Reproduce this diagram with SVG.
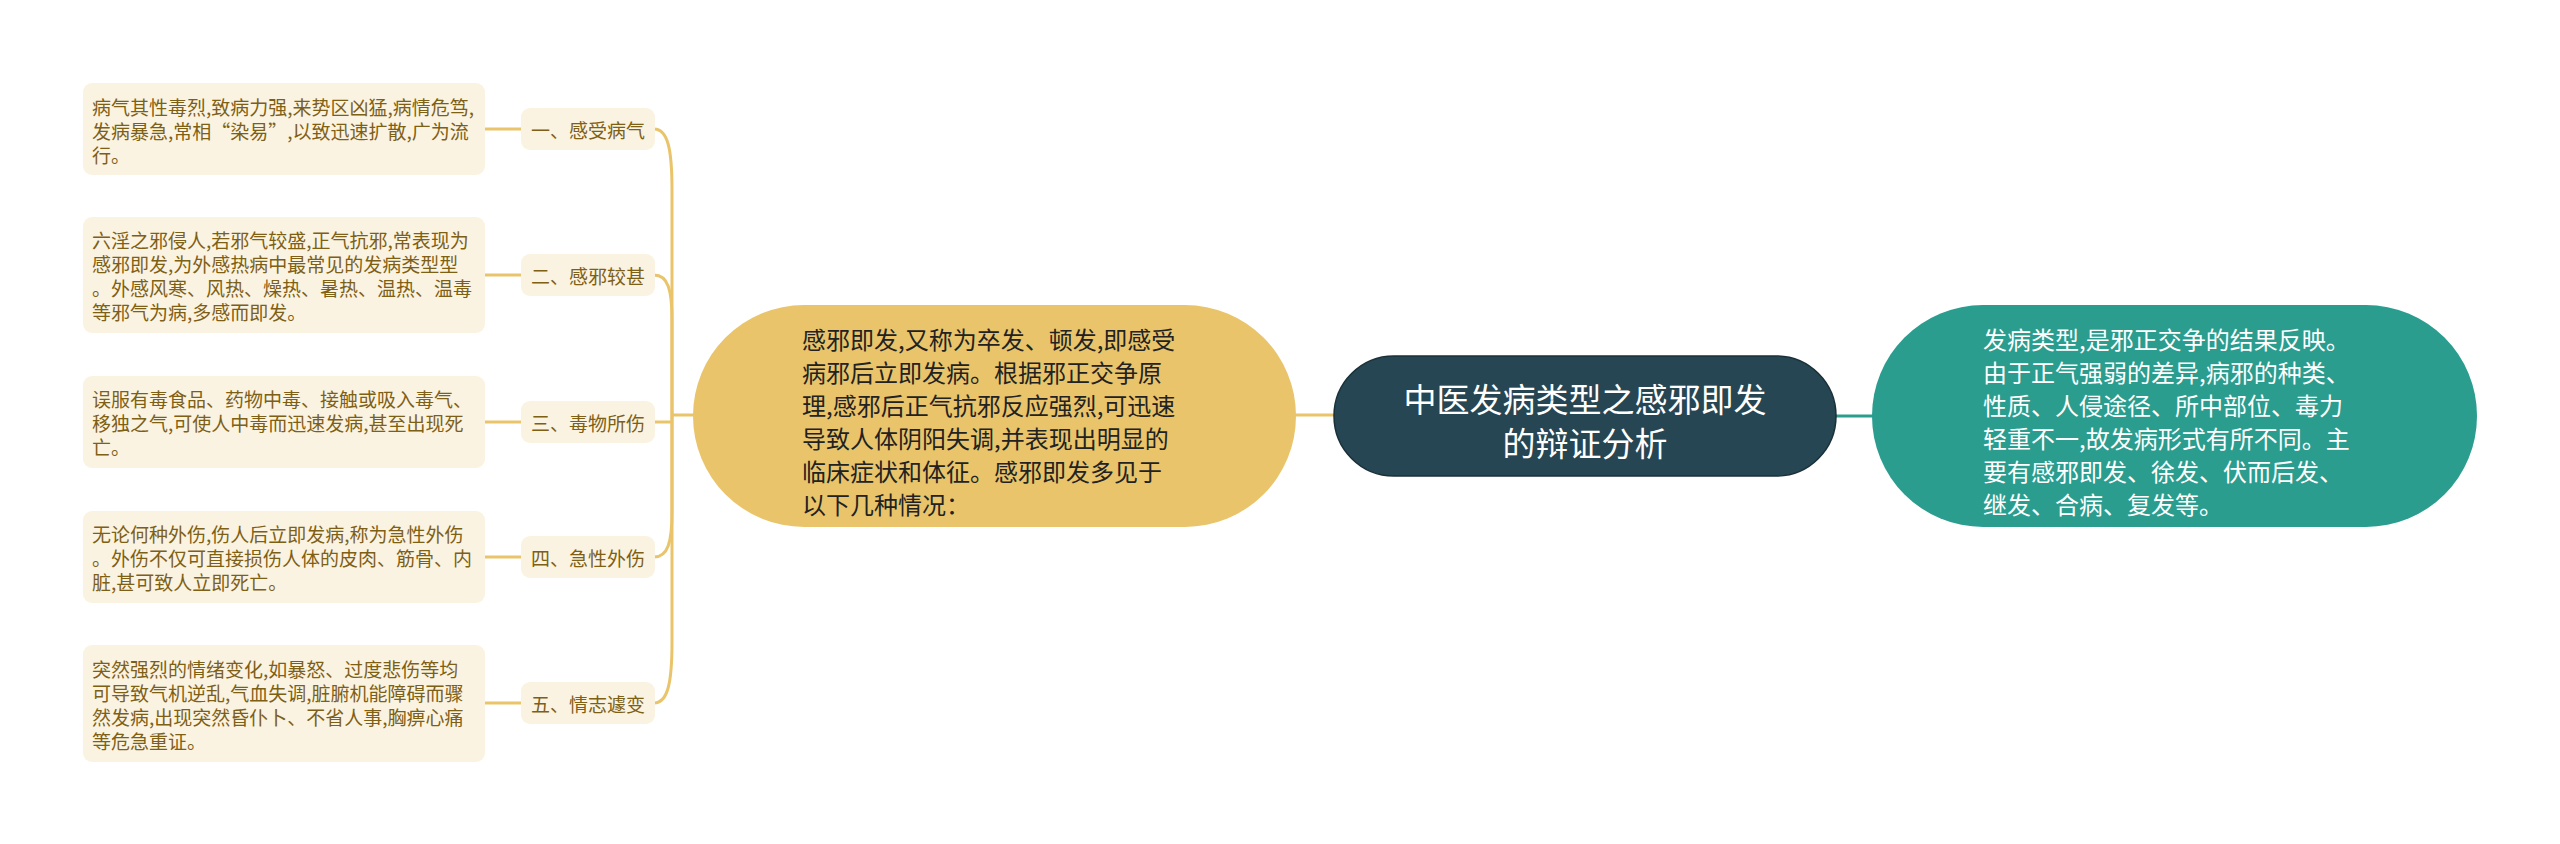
<svg xmlns="http://www.w3.org/2000/svg" width="2560" height="844" viewBox="0 0 2560 844">
<style>
.leaf{fill:#fbf3e1;}
.lt{font-family:"Noto Sans CJK SC","Noto Sans",sans-serif;font-size:19px;fill:#7e5f16;dominant-baseline:central;}
.lab{font-family:"Noto Sans CJK SC","Noto Sans",sans-serif;font-size:19px;fill:#7e5f16;dominant-baseline:central;text-anchor:middle;}
.big{font-family:"Noto Sans CJK SC","Noto Sans",sans-serif;font-size:24px;dominant-baseline:central;}
.ttl{font-family:"Noto Sans CJK SC","Noto Sans",sans-serif;font-size:33px;fill:#ffffff;dominant-baseline:central;text-anchor:middle;}
.cy{fill:none;stroke:#e9c46a;stroke-width:3;}
.ct{fill:none;stroke:#2a9d8f;stroke-width:3;}
</style>
<rect width="2560" height="844" fill="#ffffff"/>
<g id="connectors">
<path class="cy" d="M485 129 L522 129"/>
<path class="cy" d="M485 275 L522 275"/>
<path class="cy" d="M485 422 L522 422"/>
<path class="cy" d="M485 557 L522 557"/>
<path class="cy" d="M485 703 L522 703"/>
<path class="cy" d="M654 129 C668 129 672 150 672 190 L672 415"/>
<path class="cy" d="M654 275 C668 275 672 290 672 320 L672 415"/>
<path class="cy" d="M654 422 L672 422"/>
<path class="cy" d="M654 557 C668 557 672 542 672 512 L672 415"/>
<path class="cy" d="M654 703 C668 703 672 682 672 642 L672 415"/>
<path class="cy" d="M672 415 L694 415"/>
<path class="cy" d="M1295 415 L1336 415"/>
<path class="ct" d="M1835 416 L1874 416"/>
</g>
<g id="root">
<rect x="1334" y="356" width="502" height="120" rx="60" fill="#264653" stroke="#1a3038" stroke-width="1.5"/>
<text class="ttl"><tspan x="1585" y="398">中医发病类型之感邪即发</tspan><tspan x="1585" y="442">的辩证分析</tspan></text>
</g>
<g id="right-node">
<rect x="1872" y="305" width="605" height="222" rx="111" fill="#2a9d8f"/>
<text class="big" fill="#ffffff"><tspan x="1983" y="338">发病类型,是邪正交争的结果反映。</tspan><tspan x="1983" y="371">由于正气强弱的差异,病邪的种类、</tspan><tspan x="1983" y="404">性质、人侵途径、所中部位、毒力</tspan><tspan x="1983" y="437">轻重不一,故发病形式有所不同。主</tspan><tspan x="1983" y="470">要有感邪即发、徐发、伏而后发、</tspan><tspan x="1983" y="503">继发、合病、复发等。</tspan></text>
</g>
<g id="left-node">
<rect x="693" y="305" width="603" height="222" rx="111" fill="#e9c46a"/>
<text class="big" fill="#222222"><tspan x="802" y="338">感邪即发,又称为卒发、顿发,即感受</tspan><tspan x="802" y="371">病邪后立即发病。根据邪正交争原</tspan><tspan x="802" y="404">理,感邪后正气抗邪反应强烈,可迅速</tspan><tspan x="802" y="437">导致人体阴阳失调,并表现出明显的</tspan><tspan x="802" y="470">临床症状和体征。感邪即发多见于</tspan><tspan x="802" y="503">以下几种情况：</tspan></text>
</g>
<g id="label-1">
<rect class="leaf" x="521" y="108" width="134" height="42" rx="9"/>
<text class="lab" x="588" y="129">一、感受病气</text>
</g>
<g id="label-2">
<rect class="leaf" x="521" y="254" width="134" height="42" rx="9"/>
<text class="lab" x="588" y="275">二、感邪较甚</text>
</g>
<g id="label-3">
<rect class="leaf" x="521" y="401" width="134" height="42" rx="9"/>
<text class="lab" x="588" y="422">三、毒物所伤</text>
</g>
<g id="label-4">
<rect class="leaf" x="521" y="536" width="134" height="42" rx="9"/>
<text class="lab" x="588" y="557">四、急性外伤</text>
</g>
<g id="label-5">
<rect class="leaf" x="521" y="682" width="134" height="42" rx="9"/>
<text class="lab" x="588" y="703">五、情志遽变</text>
</g>
<g id="leaf-1">
<rect class="leaf" x="83" y="83" width="402" height="92" rx="9"/>
<text class="lt"><tspan x="92" y="106">病气其性毒烈,致病力强,来势区凶猛,病情危笃,</tspan><tspan x="92" y="130">发病暴急,常相“染易”,以致迅速扩散,广为流</tspan><tspan x="92" y="154">行。</tspan></text>
</g>
<g id="leaf-2">
<rect class="leaf" x="83" y="217" width="402" height="116" rx="9"/>
<text class="lt"><tspan x="92" y="239">六淫之邪侵人,若邪气较盛,正气抗邪,常表现为</tspan><tspan x="92" y="263">感邪即发,为外感热病中最常见的发病类型型</tspan><tspan x="92" y="287">。外感风寒、风热、燥热、暑热、温热、温毒</tspan><tspan x="92" y="311">等邪气为病,多感而即发。</tspan></text>
</g>
<g id="leaf-3">
<rect class="leaf" x="83" y="376" width="402" height="92" rx="9"/>
<text class="lt"><tspan x="92" y="398">误服有毒食品、药物中毒、接触或吸入毒气、</tspan><tspan x="92" y="422">移独之气,可使人中毒而迅速发病,甚至出现死</tspan><tspan x="92" y="446">亡。</tspan></text>
</g>
<g id="leaf-4">
<rect class="leaf" x="83" y="511" width="402" height="92" rx="9"/>
<text class="lt"><tspan x="92" y="533">无论何种外伤,伤人后立即发病,称为急性外伤</tspan><tspan x="92" y="557">。外伤不仅可直接损伤人体的皮肉、筋骨、内</tspan><tspan x="92" y="581">脏,甚可致人立即死亡。</tspan></text>
</g>
<g id="leaf-5">
<rect class="leaf" x="83" y="645" width="402" height="117" rx="9"/>
<text class="lt"><tspan x="92" y="668">突然强烈的情绪变化,如暴怒、过度悲伤等均</tspan><tspan x="92" y="692">可导致气机逆乱,气血失调,脏腑机能障碍而骤</tspan><tspan x="92" y="716">然发病,出现突然昏仆卜、不省人事,胸痹心痛</tspan><tspan x="92" y="740">等危急重证。</tspan></text>
</g>
</svg>
